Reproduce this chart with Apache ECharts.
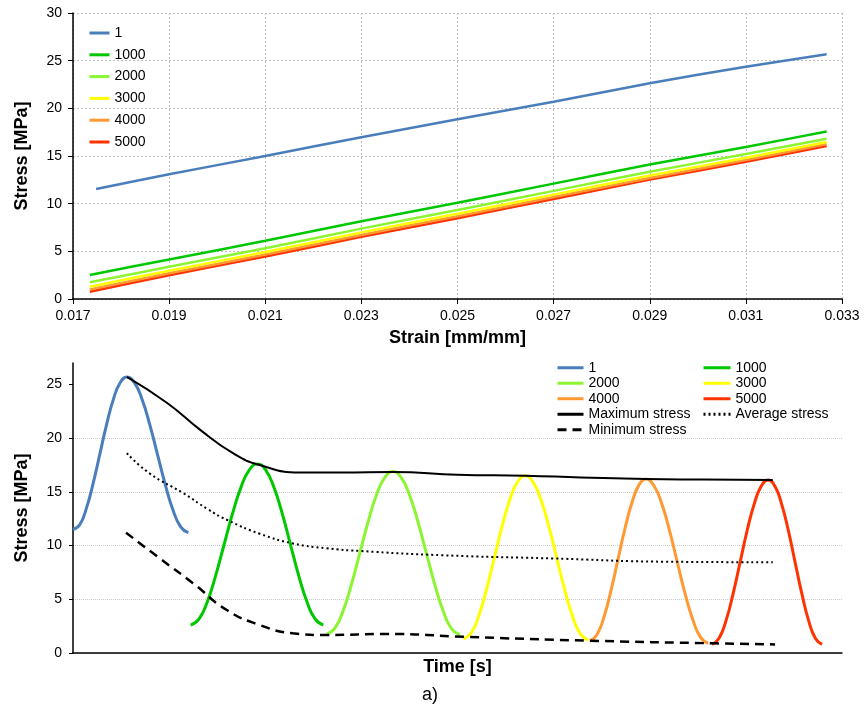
<!DOCTYPE html>
<html><head><meta charset="utf-8">
<script src="https://cdn.jsdelivr.net/npm/echarts@6/dist/echarts.min.js"></script>
<style>html,body{margin:0;padding:0;background:#fff}#c{width:864px;height:716px}</style>
</head><body><div id="c"></div><script>
// ---- Top chart: stress vs strain ----
const strainTicks = ['0.017','0.019','0.021','0.023','0.025','0.027','0.029','0.031','0.033'];
const strainPts = [0.01735, 0.019, 0.021, 0.023, 0.025, 0.027, 0.029, 0.031, 0.03268];
const strainPts1 = [0.01748, 0.019, 0.021, 0.023, 0.025, 0.027, 0.029, 0.031, 0.03268];
const ss1    = [11.54, 13.08, 15.0, 16.97, 18.86, 20.7, 22.63, 24.37, 25.68];
const ss1000 = [2.52, 4.15, 6.1, 8.15, 10.1, 12.1, 14.1, 15.95, 17.56];
const ss2000 = [1.75, 3.38, 5.33, 7.38, 9.34, 11.34, 13.35, 15.2, 16.82];
const ss3000 = [1.29, 2.97, 4.93, 6.99, 8.94, 10.95, 12.95, 14.82, 16.47];
const ss4000 = [1.0, 2.7, 4.66, 6.72, 8.68, 10.69, 12.7, 14.57, 16.26];
const ss5000 = [0.77, 2.5, 4.46, 6.52, 8.48, 10.5, 12.52, 14.4, 16.05];

// ---- Bottom chart: stress vs time ----
const t1 = [0,0.875,1.75,2.625,3.5,4.375,5.25,6.125,7.0,8,9,10,11,12,13,14,15];
const s1 = [11.5,11.94,13.49,15.81,18.55,21.29,23.61,25.16,25.7,25.15,23.58,21.22,18.45,15.68,13.32,11.75,11.2];
const t1000 = [15.3,16.39,17.48,18.56,19.65,20.74,21.83,22.91,24.0,25.07,26.14,27.21,28.28,29.34,30.41,31.48,32.55];
const s1000 = [2.6,3.17,4.8,7.23,10.1,12.97,15.4,17.03,17.6,17.03,15.4,12.97,10.1,7.23,4.8,3.17,2.6];
const t2000 = [33.0,34.08,35.15,36.23,37.3,38.38,39.45,40.53,41.6,42.69,43.78,44.86,45.95,47.04,48.13,49.21,50.3];
const s2000 = [1.75,2.33,3.97,6.43,9.33,12.22,14.68,16.32,16.9,16.32,14.67,12.21,9.3,6.39,3.93,2.28,1.7];
const t3000 = [50.8,51.8,52.8,53.8,54.8,55.8,56.8,57.8,58.8,59.83,60.85,61.88,62.9,63.93,64.95,65.98,67.0];
const s3000 = [1.3,1.88,3.53,5.99,8.9,11.81,14.27,15.92,16.5,15.92,14.26,11.78,8.85,5.92,3.44,1.78,1.2];
const t4000 = [67.2,68.11,69.03,69.94,70.85,71.76,72.68,73.59,74.5,75.51,76.53,77.54,78.55,79.56,80.58,81.59,82.6];
const s4000 = [1.1,1.67,3.31,5.76,8.65,11.54,13.99,15.63,16.2,15.62,13.96,11.48,8.55,5.62,3.14,1.48,0.9];
const t5000 = [83.1,84.01,84.93,85.84,86.75,87.66,88.58,89.49,90.4,91.28,92.15,93.03,93.9,94.78,95.65,96.53,97.4];
const s5000 = [0.8,1.38,3.04,5.52,8.45,11.38,13.86,15.52,16.1,15.52,13.86,11.38,8.45,5.52,3.04,1.38,0.8];
const tMax = [7.0,12.2,16.5,20.8,24.3,29.5,35,41.6,50,58.8,66,74.5,82,91];
const sMax = [25.7,23.3,20.8,18.6,17.5,16.8,16.8,16.85,16.6,16.5,16.35,16.2,16.15,16.1];
const tAvg = [7.0,10,14.3,17.5,20,24.3,28.6,33,37.3,48,62.5,77,91];
const sAvg = [18.6,16.7,14.9,13.4,12.4,11.1,10.2,9.75,9.5,9.1,8.8,8.5,8.45];
const tMin = [6.9,11.3,15.6,20,24.3,28.6,33,41,51,67,83.4,91.3];
const sMin = [11.2,8.8,6.5,4.0,2.6,1.83,1.68,1.78,1.5,1.15,0.9,0.8];
const stressTicksBottom = [0,5,10,15,20,25];

const names = ['1','1000','2000','3000','4000','5000'];
const colors = ['#4a7ebb','#00c800','#8cf532','#ffff00','#ff9933','#ff3300'];
const zip = (a,b) => a.map((v,i)=>[v,b[i]]);
const FONT = 'Liberation Sans, Arial, sans-serif';

const topY = [ss1, ss1000, ss2000, ss3000, ss4000, ss5000];
const botT = [t1, t1000, t2000, t3000, t4000, t5000];
const botS = [s1, s1000, s2000, s3000, s4000, s5000];

const series = [];
names.forEach((n,i)=>{
  series.push({name:n,type:'line',xAxisIndex:0,yAxisIndex:0,symbol:'none',smooth:0.2,
    data: zip(i===0?strainPts1:strainPts, topY[i]),
    lineStyle:{color:colors[i],width:2.5},itemStyle:{color:colors[i]},z:10-i});
});
names.forEach((n,i)=>{
  series.push({name:n,type:'line',xAxisIndex:1,yAxisIndex:1,symbol:'none',smooth:0.5,clip:false,
    data: zip(botT[i], botS[i]),
    lineStyle:{color:colors[i],width:3},itemStyle:{color:colors[i]}});
});
series.push({name:'Maximum stress',type:'line',xAxisIndex:1,yAxisIndex:1,symbol:'none',smooth:0.5,
  data:zip(tMax,sMax),lineStyle:{color:'#000',width:2},itemStyle:{color:'#000'},z:5});
series.push({name:'Average stress',type:'line',xAxisIndex:1,yAxisIndex:1,symbol:'none',smooth:0.5,
  data:zip(tAvg,sAvg),lineStyle:{color:'#000',width:2,type:[2,3]},itemStyle:{color:'#000'},z:5});
series.push({name:'Minimum stress',type:'line',xAxisIndex:1,yAxisIndex:1,symbol:'none',smooth:0.5,
  data:zip(tMin,sMin),lineStyle:{color:'#000',width:2.5,type:[9,6]},itemStyle:{color:'#000'},z:5});

const labelStyle = {color:'#000',fontSize:14,fontFamily:FONT};
const nameStyle = {color:'#000',fontSize:18,fontWeight:'bold',fontFamily:FONT};
const grid = {lineStyle:{color:'#bdbdbd',type:[2,2],width:1}};
const legText = {color:'#000',fontSize:14,fontFamily:FONT};

const option = {
  animation:false,
  backgroundColor:'#fff',
  grid:[
    {left:73,top:13,width:769,height:286},
    {left:73,top:363,width:769,height:290}
  ],
  xAxis:[
    {type:'value',gridIndex:0,min:0.017,max:0.033,interval:0.002,
      name:'Strain [mm/mm]',nameLocation:'middle',nameGap:30,nameTextStyle:nameStyle,
      axisLine:{lineStyle:{color:'#000',width:1.5}},axisTick:{show:true,length:5,lineStyle:{color:'#000'}},
      axisLabel:Object.assign({margin:10,formatter:v=>v.toFixed(3)},labelStyle),
      splitLine:Object.assign({show:true},grid)},
    {type:'value',gridIndex:1,min:0,max:100,
      name:'Time [s]',nameLocation:'middle',nameGap:5,nameTextStyle:nameStyle,
      axisLine:{lineStyle:{color:'#000',width:1.5}},axisTick:{show:false},axisLabel:{show:false},splitLine:{show:false}}
  ],
  yAxis:[
    {type:'value',gridIndex:0,min:0,max:30,interval:5,
      name:'Stress [MPa]',nameLocation:'middle',nameGap:42,nameTextStyle:nameStyle,
      axisLine:{show:true,lineStyle:{color:'#000',width:1.5}},axisTick:{show:true,length:5,lineStyle:{color:'#000'}},
      axisLabel:Object.assign({margin:11},labelStyle),
      splitLine:Object.assign({show:true},grid)},
    {type:'value',gridIndex:1,min:0,max:27,interval:5,
      name:'Stress [MPa]',nameLocation:'middle',nameGap:42,nameTextStyle:nameStyle,
      axisLine:{show:true,lineStyle:{color:'#000',width:1.5}},
      axisTick:{show:true,length:4,lineStyle:{color:'#000'},customValues:stressTicksBottom},
      axisLabel:Object.assign({margin:11,customValues:stressTicksBottom},labelStyle),
      splitLine:{show:true,showMaxLine:false,lineStyle:{color:'#c8c8c8',type:[1,1],width:1}}}
  ],
  legend:[
    {orient:'vertical',left:83,top:20,itemWidth:20,itemHeight:16,itemGap:5.8,
      itemStyle:{opacity:0},lineStyle:{width:3},
      data:names,textStyle:Object.assign({lineHeight:16},legText)},
    {orient:'vertical',left:551,top:355,itemWidth:26,itemHeight:15.5,itemGap:0,
      itemStyle:{opacity:0},lineStyle:{width:3},
      data:['1','2000','4000','Maximum stress','Minimum stress'],
      textStyle:Object.assign({lineHeight:15.5},legText)},
    {orient:'vertical',left:697,top:355,itemWidth:27,itemHeight:15.5,itemGap:0,
      itemStyle:{opacity:0},lineStyle:{width:3},
      data:['1000','3000','5000','Average stress'],
      textStyle:Object.assign({lineHeight:15.5},legText)}
  ],
  graphic:[{type:'text',left:422,top:686,style:{text:'a)',fontSize:18,fontFamily:FONT,fill:'#000'}}],
  series:series
};
const chart = echarts.init(document.getElementById('c'),null,{renderer:'canvas'});
chart.setOption(option);
</script></body></html>
